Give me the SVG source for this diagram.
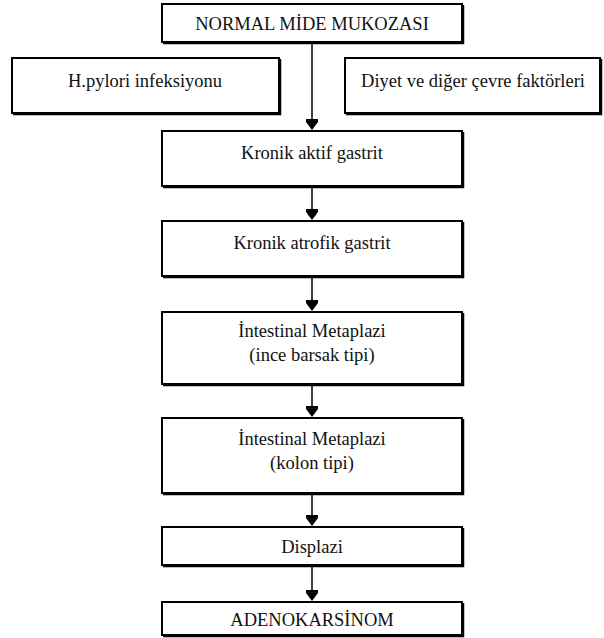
<svg xmlns="http://www.w3.org/2000/svg" width="604" height="638" viewBox="0 0 604 638">
  <style>
    .box { fill: #ffffff; stroke: #000000; stroke-width: 2; }
    .shadow { fill: none; stroke: #000000; stroke-width: 1.5; }
    .lbl { font-family: "Liberation Serif", "Times New Roman", "DejaVu Serif", serif; font-size: 18.5px; fill: #111111; text-anchor: middle; }
    .conn { stroke: #000000; stroke-width: 1.5; fill: none; }
    .head { fill: #000000; stroke: none; }
  </style>
  <rect width="604" height="638" fill="#ffffff"/>

  <g id="connectors">
    <line class="conn" x1="312" y1="42" x2="312" y2="122"/>
    <line class="conn" x1="312" y1="186" x2="312" y2="212"/>
    <line class="conn" x1="312" y1="276" x2="312" y2="303"/>
    <line class="conn" x1="312" y1="384" x2="312" y2="409"/>
    <line class="conn" x1="312" y1="493" x2="312" y2="518"/>
    <line class="conn" x1="312" y1="565" x2="312" y2="593"/>
    <path class="head" d="M306,119 L318,119 L318,122 L312,130 L306,122 Z"/>
    <path class="head" d="M306,209 L318,209 L318,212 L312,220 L306,212 Z"/>
    <path class="head" d="M306,300 L318,300 L318,303 L312,311 L306,303 Z"/>
    <path class="head" d="M306,406 L318,406 L318,409 L312,417 L306,409 Z"/>
    <path class="head" d="M306,515 L318,515 L318,518 L312,526 L306,518 Z"/>
    <path class="head" d="M306,590 L318,590 L318,593 L312,601 L306,593 Z"/>
  </g>

  <g id="n-normal">
    <rect class="box" x="162" y="4" width="300" height="38"/>
    <polyline class="shadow" points="463.5,5 463.5,43.5 163,43.5"/>
    <text class="lbl" x="312" y="30">NORMAL MİDE MUKOZASI</text>
  </g>

  <g id="n-hpylori">
    <rect class="box" x="12" y="58" width="267" height="55"/>
    <polyline class="shadow" points="280.5,59 280.5,114.5 13,114.5"/>
    <text class="lbl" x="145" y="87">H.pylori infeksiyonu</text>
  </g>

  <g id="n-diyet">
    <rect class="box" x="345" y="58" width="255" height="55"/>
    <polyline class="shadow" points="601.5,59 601.5,114.5 346,114.5"/>
    <text class="lbl" x="473" y="87">Diyet ve diğer çevre faktörleri</text>
  </g>

  <g id="n-aktif">
    <rect class="box" x="162" y="131" width="300" height="55"/>
    <polyline class="shadow" points="463.5,132 463.5,187.5 163,187.5"/>
    <text class="lbl" x="312" y="159">Kronik aktif gastrit</text>
  </g>

  <g id="n-atrofik">
    <rect class="box" x="162" y="221" width="300" height="55"/>
    <polyline class="shadow" points="463.5,222 463.5,277.5 163,277.5"/>
    <text class="lbl" x="312" y="249">Kronik atrofik gastrit</text>
  </g>

  <g id="n-im-ince">
    <rect class="box" x="162" y="312" width="300" height="72"/>
    <polyline class="shadow" points="463.5,313 463.5,385.5 163,385.5"/>
    <text class="lbl" x="312" y="337">İntestinal Metaplazi</text>
    <text class="lbl" x="312" y="361">(ince barsak tipi)</text>
  </g>

  <g id="n-im-kolon">
    <rect class="box" x="162" y="418" width="300" height="75"/>
    <polyline class="shadow" points="463.5,419 463.5,494.5 163,494.5"/>
    <text class="lbl" x="312" y="445">İntestinal Metaplazi</text>
    <text class="lbl" x="312" y="469">(kolon tipi)</text>
  </g>

  <g id="n-displazi">
    <rect class="box" x="162" y="527" width="300" height="38"/>
    <polyline class="shadow" points="463.5,528 463.5,566.5 163,566.5"/>
    <text class="lbl" x="312" y="553">Displazi</text>
  </g>

  <g id="n-adeno">
    <rect class="box" x="162" y="602" width="300" height="33"/>
    <polyline class="shadow" points="463.5,603 463.5,636.5 163,636.5"/>
    <text class="lbl" x="312" y="626">ADENOKARSİNOM</text>
  </g>
</svg>
